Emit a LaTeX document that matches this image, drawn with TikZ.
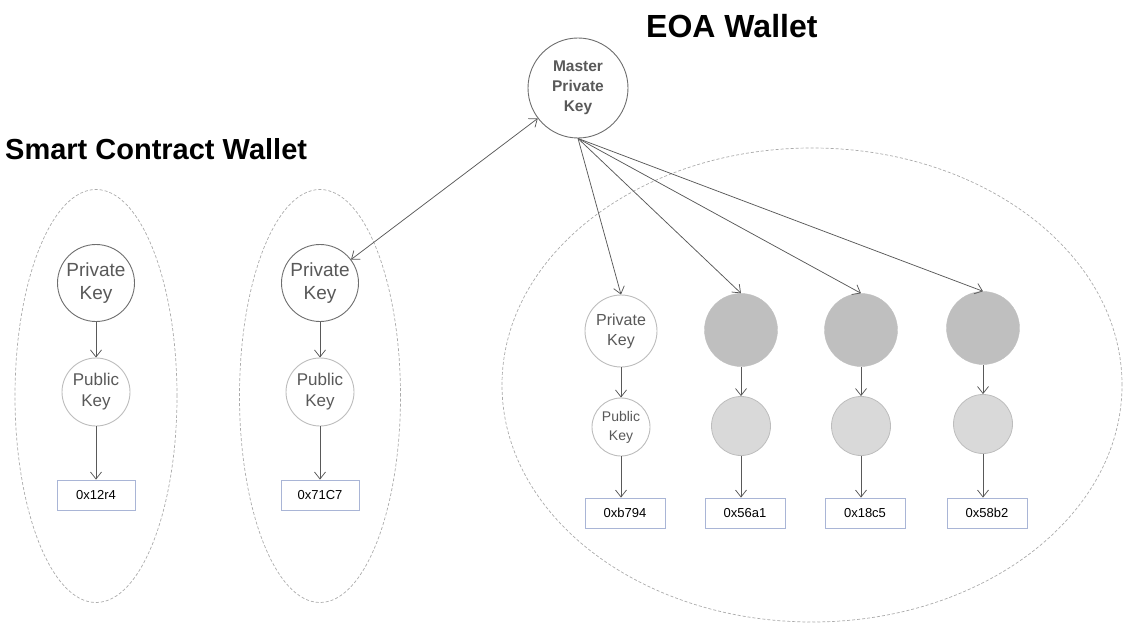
\documentclass[tikz,border=0pt]{standalone}
\usepackage{fontspec}
\setmainfont{Liberation Sans}
\usetikzlibrary{arrows.meta,shapes.geometric}

\definecolor{keytext}{HTML}{595959}
\definecolor{darkring}{HTML}{6E6E6E}
\definecolor{lightring}{HTML}{BDBDBD}
\definecolor{darkfill}{HTML}{BFBFBF}
\definecolor{lightfill}{HTML}{D9D9D9}
\definecolor{boxline}{HTML}{A9B5D6}
\definecolor{walletline}{HTML}{ABABAB}
\definecolor{linkline}{HTML}{595959}

\tikzstyle{wallet} = [ellipse, draw=walletline, dash pattern=on 3pt off 2pt, line width=0.7pt]
\tikzstyle{masterkey} = [circle, draw=darkring, line width=0.9pt, fill=white, inner sep=0pt, minimum size=100pt, align=center, text=keytext, font=\bfseries\fontsize{15.5}{20}\selectfont]
\tikzstyle{privkey} = [circle, draw=darkring, line width=0.9pt, fill=white, inner sep=0pt, minimum size=77pt, align=center, text=keytext, font=\fontsize{19}{23}\selectfont]
\tikzstyle{pubkey} = [circle, draw=lightring, line width=0.9pt, fill=white, inner sep=0pt, minimum size=68pt, align=center, text=keytext, font=\fontsize{17}{21}\selectfont]
\tikzstyle{eoapriv} = [circle, draw=lightring, line width=0.9pt, fill=white, inner sep=0pt, minimum size=72pt, align=center, text=keytext, font=\fontsize{16}{20}\selectfont]
\tikzstyle{eoapub} = [circle, draw=lightring, line width=0.9pt, fill=white, inner sep=0pt, minimum size=58pt, align=center, text=keytext, font=\fontsize{14}{19}\selectfont]
\tikzstyle{darkkey} = [circle, draw=darkfill, fill=darkfill, inner sep=0pt, minimum size=73pt]
\tikzstyle{lightkey} = [circle, draw=lightring, line width=0.8pt, fill=lightfill, inner sep=0pt, minimum size=59pt]
\tikzstyle{address} = [rectangle, draw=boxline, line width=0.8pt, fill=white, minimum width=78pt, minimum height=30pt, font=\fontsize{13}{15}\selectfont]
\tikzstyle{title} = [anchor=base west, inner sep=0pt]
\tikzstyle{link} = [draw=linkline, line width=0.75pt]

\begin{document}
\begin{tikzpicture}[x=1pt, y=-1pt, >={Straight Barb[length=7pt,width=11pt]}]
\useasboundingbox (0,0) rectangle (1124,628);

% dashed wallets
\node (scw1) [wallet, minimum width=162pt, minimum height=413pt] at (96,396) {};
\node (scw2) [wallet, minimum width=161pt, minimum height=413pt] at (320,396) {};
\node (eoa) [wallet, minimum width=620pt, minimum height=474pt] at (812,385) {};

\node (scwtitle) [title, font=\bfseries\fontsize{29}{34}\selectfont] at (5,160) {Smart Contract Wallet};
\node (eoatitle) [title, font=\bfseries\fontsize{32}{38}\selectfont] at (646,38) {EOA Wallet};

\node (master) [masterkey] at (578,88) {Master\\Private\\Key};

% smart contract wallets
\node (priv1) [privkey] at (96,283) {Private\\Key};
\node (pub1) [pubkey, below of=priv1, node distance=109pt] {Public\\Key};
\node (addr1) [address, below of=pub1, node distance=103pt] {0x12r4};

\node (priv2) [privkey] at (320,283) {Private\\Key};
\node (pub2) [pubkey, below of=priv2, node distance=109pt] {Public\\Key};
\node (addr2) [address, below of=pub2, node distance=103pt] {0x71C7};

% EOA keys
\node (priv3) [eoapriv] at (621,331) {Private\\Key};
\node (pub3) [eoapub, below of=priv3, node distance=96pt] {Public\\Key};
\node (addr3) [address, below of=pub3, node distance=86pt, xshift=4pt, minimum width=80pt] {0xb794};

\node (priv4) [darkkey] at (741,330) {};
\node (pub4) [lightkey, below of=priv4, node distance=96pt] {};
\node (addr4) [address, below of=pub4, node distance=87pt, xshift=4pt, minimum width=80pt] {0x56a1};

\node (priv5) [darkkey] at (861,330) {};
\node (pub5) [lightkey, below of=priv5, node distance=96pt] {};
\node (addr5) [address, below of=pub5, node distance=87pt, xshift=4pt, minimum width=80pt] {0x18c5};

\node (priv6) [darkkey] at (983,328) {};
\node (pub6) [lightkey, below of=priv6, node distance=96pt] {};
\node (addr6) [address, below of=pub6, node distance=89pt, xshift=4pt, minimum width=80pt] {0x58b2};

\draw [link, ->] (priv1) -- (pub1);
\draw [link, ->] (pub1) -- (addr1);
\draw [link, ->] (priv2) -- (pub2);
\draw [link, ->] (pub2) -- (addr2);
\draw [link, <->] (master) -- (priv2);

\draw [link, ->] (master.south) -- (priv3.north);
\draw [link, ->] (master.south) -- (priv4.north);
\draw [link, ->] (master.south) -- (priv5.north);
\draw [link, ->] (master.south) -- (priv6.north);

\draw [link, ->] (priv3) -- (pub3);
\draw [link, ->] (pub3.south) -- (pub3.south |- addr3.north);
\draw [link, ->] (priv4) -- (pub4);
\draw [link, ->] (pub4.south) -- (pub4.south |- addr4.north);
\draw [link, ->] (priv5) -- (pub5);
\draw [link, ->] (pub5.south) -- (pub5.south |- addr5.north);
\draw [link, ->] (priv6) -- (pub6);
\draw [link, ->] (pub6.south) -- (pub6.south |- addr6.north);
\end{tikzpicture}
\end{document}
